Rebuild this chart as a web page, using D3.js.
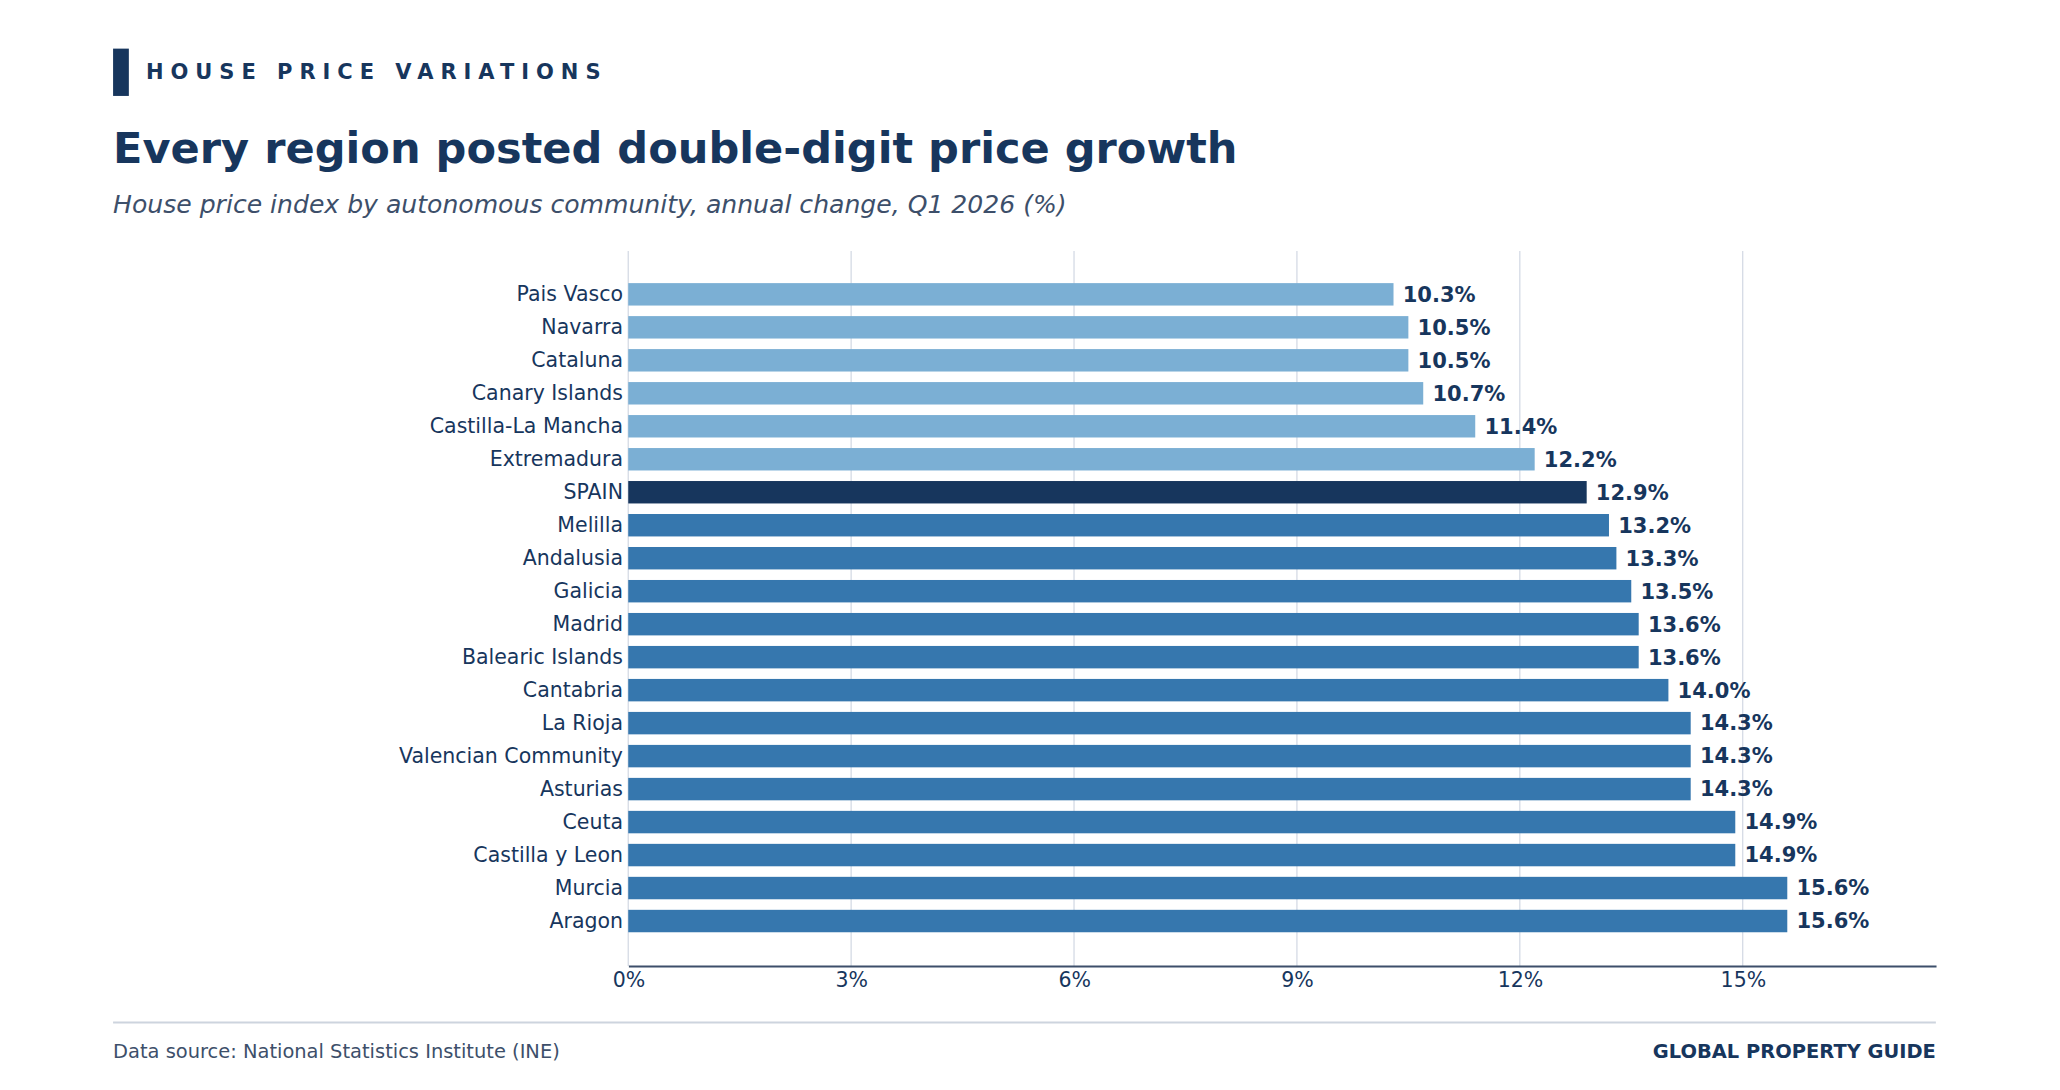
<!DOCTYPE html>
<html>
<head>
<meta charset="utf-8">
<script src="https://cdn.jsdelivr.net/npm/d3@7"></script>
<style>
  body { margin: 0; background: #fff; }
  svg { display: block; font-family: "DejaVu Sans", sans-serif; }
</style>
</head>
<body>
<div id="chart"></div>
<script>
const regions = ["Pais Vasco", "Navarra", "Cataluna", "Canary Islands", "Castilla-La Mancha",
  "Extremadura", "SPAIN", "Melilla", "Andalusia", "Galicia", "Madrid", "Balearic Islands",
  "Cantabria", "La Rioja", "Valencian Community", "Asturias", "Ceuta", "Castilla y Leon",
  "Murcia", "Aragon"];
const changes = [10.3, 10.5, 10.5, 10.7, 11.4, 12.2, 12.9, 13.2, 13.3, 13.5, 13.6, 13.6,
  14.0, 14.3, 14.3, 14.3, 14.9, 14.9, 15.6, 15.6];
const xTicks = [0, 3, 6, 9, 12, 15];

const navy = "#17365d";
const W = 1567.4, H = 829.4;

const svg = d3.select("#chart").append("svg")
    .attr("width", 2060).attr("height", 1090)
    .attr("viewBox", `0 0 ${W} ${H}`);

// header
svg.append("rect").attr("x", 86).attr("y", 37).attr("width", 12).attr("height", 36).attr("fill", navy);
svg.append("text").attr("x", 111).attr("y", 60).text("HOUSE PRICE VARIATIONS")
    .attr("fill", navy).attr("font-size", 16).attr("font-weight", "bold").attr("letter-spacing", 5.3);
svg.append("text").attr("x", 86).attr("y", 124).text("Every region posted double-digit price growth")
    .attr("fill", navy).attr("font-size", 32.8).attr("font-weight", "bold");
svg.append("text").attr("x", 86).attr("y", 162).text("House price index by autonomous community, annual change, Q1 2026 (%)")
    .attr("fill", "#3d4f6a").attr("font-size", 19.1).attr("font-style", "italic");

const x = d3.scaleLinear().domain([0, 17.6]).range([478, 1473]);
const y = d3.scaleBand().domain(regions).range([207.4, 717.4]).padding(0.32);

// grid
svg.append("g").selectAll("line").data(xTicks).join("line")
    .attr("x1", d => x(d)).attr("x2", d => x(d)).attr("y1", 191).attr("y2", 735)
    .attr("stroke", "#d5dbe5").attr("stroke-width", 1);

// bars
svg.append("g").selectAll("rect").data(regions).join("rect")
    .attr("x", x(0)).attr("y", d => y(d))
    .attr("width", (d, i) => x(changes[i]) - x(0)).attr("height", y.bandwidth())
    .attr("fill", (d, i) => d === "SPAIN" ? navy : (changes[i] < 12.9 ? "#7bafd4" : "#3677ae"));

svg.append("g").selectAll("text").data(regions).join("text")
    .attr("x", (d, i) => x(changes[i]) + 7).attr("y", d => y(d) + y.bandwidth() / 2)
    .attr("dy", "0.35em").text((d, i) => changes[i].toFixed(1) + "%")
    .attr("fill", navy).attr("font-size", 16).attr("font-weight", "bold");

// y labels
const yAxis = svg.append("g").attr("transform", `translate(${x(0)},0)`)
    .call(d3.axisLeft(y).tickSize(0).tickPadding(4));
yAxis.select(".domain").remove();
yAxis.selectAll("text").attr("fill", navy).attr("font-size", 15.6).attr("font-family", "DejaVu Sans");

// x axis
const xAxis = svg.append("g").attr("transform", "translate(0,735)")
    .call(d3.axisBottom(x).tickValues(xTicks).tickFormat(d => d + "%").tickSize(0).tickPadding(5));
xAxis.select(".domain").attr("stroke", "#3d4f6a").attr("stroke-width", 1.5);
xAxis.selectAll("text").attr("fill", navy).attr("font-size", 15.6).attr("font-family", "DejaVu Sans");

// footer
svg.append("line").attr("x1", 86).attr("x2", 1473).attr("y1", 778).attr("y2", 778)
    .attr("stroke", "#cdd4de").attr("stroke-width", 1.5);
svg.append("text").attr("x", 86).attr("y", 805).text("Data source: National Statistics Institute (INE)")
    .attr("fill", "#3d4f6a").attr("font-size", 14.8);
svg.append("text").attr("x", 1473).attr("y", 805).attr("text-anchor", "end").text("GLOBAL PROPERTY GUIDE")
    .attr("fill", navy).attr("font-size", 14.8).attr("font-weight", "bold");
</script>
</body>
</html>
